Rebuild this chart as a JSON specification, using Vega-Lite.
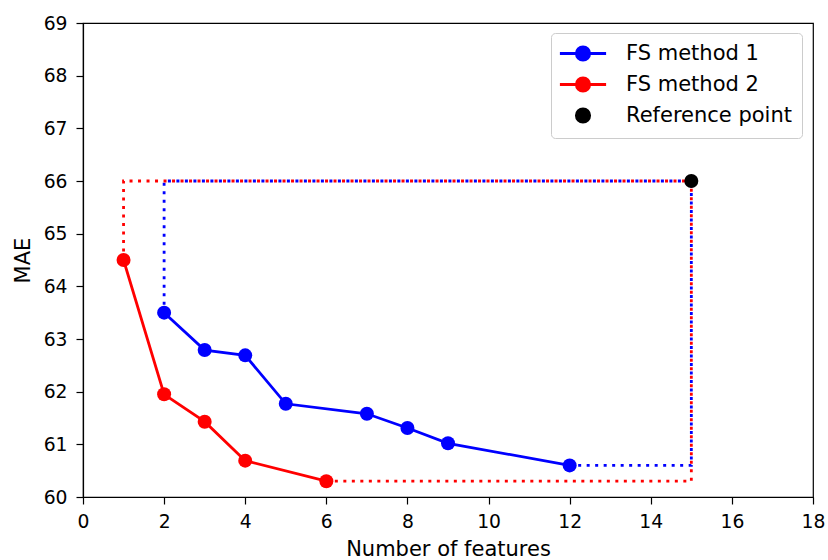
{
  "$schema": "https://vega.github.io/schema/vega-lite/v6.json",
  "width": 730,
  "height": 474,
  "autosize": {"type": "none"},
  "padding": {"left": 83, "top": 23, "right": 15, "bottom": 63},
  "background": "white",
  "config": {
    "font": "DejaVu Sans",
    "view": {"stroke": "black", "strokeWidth": 1.2},
    "axis": {
      "grid": false,
      "labelFlush": false,
      "domainColor": "black",
      "domainWidth": 1.2,
      "tickColor": "black",
      "tickWidth": 1.2,
      "tickSize": 7,
      "labelColor": "black",
      "labelFontSize": 18.75,
      "labelFont": "DejaVu Sans",
      "titleColor": "black",
      "titleFontSize": 21,
      "titleFont": "DejaVu Sans",
      "titleFontWeight": "normal"
    }
  },
  "datasets": {
    "curves": [
      {"series": "FS method 1", "features": 2, "mae": 63.5},
      {"series": "FS method 1", "features": 3, "mae": 62.79},
      {"series": "FS method 1", "features": 4, "mae": 62.69},
      {"series": "FS method 1", "features": 5, "mae": 61.77},
      {"series": "FS method 1", "features": 7, "mae": 61.58},
      {"series": "FS method 1", "features": 8, "mae": 61.31},
      {"series": "FS method 1", "features": 9, "mae": 61.02},
      {"series": "FS method 1", "features": 12, "mae": 60.6},
      {"series": "FS method 2", "features": 1, "mae": 64.5},
      {"series": "FS method 2", "features": 2, "mae": 61.95},
      {"series": "FS method 2", "features": 3, "mae": 61.43},
      {"series": "FS method 2", "features": 4, "mae": 60.69},
      {"series": "FS method 2", "features": 6, "mae": 60.3}
    ],
    "bounds": [
      {"series": "FS method 1", "step": 1, "features": 12, "mae": 60.6},
      {"series": "FS method 1", "step": 2, "features": 15, "mae": 60.6},
      {"series": "FS method 1", "step": 3, "features": 15, "mae": 66},
      {"series": "FS method 1", "step": 4, "features": 2, "mae": 66},
      {"series": "FS method 1", "step": 5, "features": 2, "mae": 63.5},
      {"series": "FS method 2", "step": 1, "features": 6, "mae": 60.3},
      {"series": "FS method 2", "step": 2, "features": 15, "mae": 60.3},
      {"series": "FS method 2", "step": 3, "features": 15, "mae": 66},
      {"series": "FS method 2", "step": 4, "features": 1, "mae": 66},
      {"series": "FS method 2", "step": 5, "features": 1, "mae": 64.5}
    ],
    "reference": [
      {"series": "Reference point", "features": 15, "mae": 66}
    ]
  },
  "encoding": {
    "x": {
      "field": "features",
      "type": "quantitative",
      "title": "Number of features",
      "scale": {"domain": [0, 18], "nice": false, "zero": false},
      "axis": {"values": [0, 2, 4, 6, 8, 10, 12, 14, 16, 18], "labelPadding": 8, "titlePadding": 8}
    },
    "y": {
      "field": "mae",
      "type": "quantitative",
      "title": "MAE",
      "scale": {"domain": [60, 69], "nice": false, "zero": false},
      "axis": {"values": [60, 61, 62, 63, 64, 65, 66, 67, 68, 69], "labelPadding": 9, "titlePadding": 10}
    },
    "color": {
      "field": "series",
      "type": "nominal",
      "scale": {
        "domain": ["FS method 1", "FS method 2", "Reference point"],
        "range": ["#0000ff", "#ff0000", "#000000"]
      },
      "legend": {
        "title": null,
        "orient": "none",
        "legendX": 468,
        "legendY": 10,
        "direction": "vertical",
        "labelFont": "DejaVu Sans",
        "labelFontSize": 21,
        "labelColor": "black",
        "labelLimit": 0,
        "labelOffset": 44,
        "symbolSize": 196,
        "symbolType": "circle",
        "rowPadding": 6,
        "padding": 10,
        "strokeColor": "#cccccc",
        "fillColor": "white",
        "cornerRadius": 4,
        "offset": 0,
        "encode": {
          "symbols": {
            "update": {
              "shape": {"signal": "datum.value === 'Reference point' ? 'M-0.95,0A0.95,0.95,0,1,1,0.95,0A0.95,0.95,0,1,1,-0.95,0Z' : 'M-3.3,0H3.3M-0.95,0A0.95,0.95,0,1,1,0.95,0A0.95,0.95,0,1,1,-0.95,0Z'"},
              "fill": {"scale": "color", "field": "value"},
              "stroke": {"scale": "color", "field": "value"},
              "strokeWidth": {"value": 2.8},
              "opacity": {"value": 1},
              "xc": {"value": 22}
            }
          }
        }
      }
    }
  },
  "layer": [
    {
      "data": {"name": "bounds"},
      "mark": {"type": "line", "strokeDash": [3, 5.5], "strokeWidth": 2.8, "strokeCap": "butt"},
      "encoding": {"order": {"field": "step", "type": "quantitative"}}
    },
    {
      "data": {"name": "curves"},
      "mark": {"type": "line", "strokeWidth": 2.8, "point": {"filled": true, "size": 196, "opacity": 1}},
      "encoding": {"order": {"field": "features", "type": "quantitative"}}
    },
    {
      "data": {"name": "reference"},
      "mark": {"type": "point", "filled": true, "size": 196, "opacity": 1}
    }
  ]
}
